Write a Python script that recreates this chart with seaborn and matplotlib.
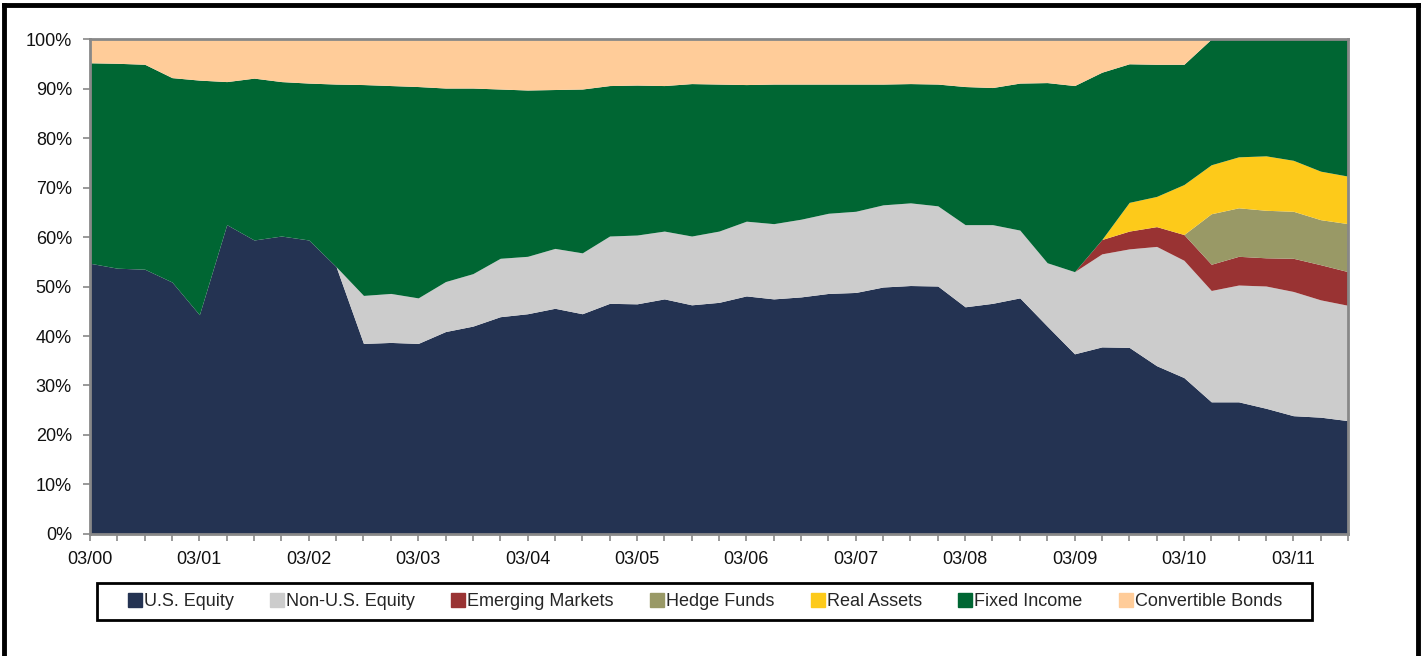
import matplotlib
matplotlib.use("Agg")
import matplotlib.pyplot as plt
from matplotlib.lines import Line2D
from matplotlib.patches import Rectangle
import numpy as np
import pandas as pd
import seaborn as sns

# Quarterly periods 03/00 .. 09/11
quarters = [f"{m:02d}/{y:02d}" for y in range(0, 12) for m in (3, 6, 9, 12)][:47]
tick_labels = ["03/00", "03/01", "03/02", "03/03", "03/04", "03/05",
               "03/06", "03/07", "03/08", "03/09", "03/10", "03/11"]

us_equity = [54.7, 53.7, 53.5, 50.9, 44.3, 62.5, 59.4, 60.2, 59.4, 54.0,
             38.5, 38.7, 38.5, 40.9, 42.0, 43.9, 44.5, 45.6, 44.5, 46.6,
             46.5, 47.5, 46.3, 46.8, 48.1, 47.5, 47.9, 48.6, 48.8, 49.9,
             50.2, 50.1, 45.9, 46.6, 47.7, 42.0, 36.4, 37.8, 37.7, 34.0,
             31.6, 26.7, 26.7, 25.4, 23.9, 23.6, 22.9]
non_us_equity = [0, 0, 0, 0, 0, 0, 0, 0, 0, 0,
                 9.7, 9.9, 9.2, 10.1, 10.6, 11.8, 11.6, 12.1, 12.3, 13.6,
                 13.9, 13.7, 13.9, 14.4, 15.1, 15.2, 15.7, 16.2, 16.4, 16.6,
                 16.7, 16.2, 16.6, 15.9, 13.7, 12.8, 16.6, 18.8, 19.9, 24.1,
                 23.7, 22.5, 23.6, 24.7, 25.1, 23.7, 23.3]
emerging_markets = [0] * 37 + [2.9, 3.6, 4.0, 5.2, 5.3, 5.8, 5.7, 6.7, 7.1, 6.8]
hedge_funds = [0] * 41 + [10.2, 9.8, 9.6, 9.5, 9.1, 9.7]
real_assets = [0] * 38 + [5.8, 6.1, 10.1, 9.9, 10.3, 11.0, 10.3, 9.8, 9.6]
fixed_income = [40.5, 41.4, 41.4, 41.3, 47.4, 28.9, 32.7, 31.2, 31.7, 36.9,
                42.6, 42.0, 42.7, 39.1, 37.5, 34.2, 33.6, 32.1, 33.1, 30.4,
                30.3, 29.4, 30.8, 29.7, 27.6, 28.2, 27.3, 26.1, 25.7, 24.4,
                24.1, 24.6, 27.9, 27.7, 29.7, 36.4, 37.6, 33.8, 28.0, 26.7,
                24.3, 25.4, 23.8, 23.6, 24.5, 26.7, 27.7]
convertible_bonds = [4.8, 4.9, 5.1, 7.8, 8.3, 8.6, 7.9, 8.6, 8.9, 9.1,
                     9.2, 9.4, 9.6, 9.9, 9.9, 10.1, 10.3, 10.2, 10.1, 9.4,
                     9.3, 9.4, 9.0, 9.1, 9.2, 9.1, 9.1, 9.1, 9.1, 9.1,
                     9.0, 9.1, 9.6, 9.8, 8.9, 8.8, 9.4, 6.7, 5.0, 5.1,
                     5.1, 0, 0, 0, 0, 0, 0]

series_names = ["U.S. Equity", "Non-U.S. Equity", "Emerging Markets",
                "Hedge Funds", "Real Assets", "Fixed Income", "Convertible Bonds"]
colors = ["#243352", "#CCCCCC", "#993333", "#999966", "#FDCA1A", "#006633", "#FFCC99"]

df = pd.DataFrame({
    "U.S. Equity": us_equity,
    "Non-U.S. Equity": non_us_equity,
    "Emerging Markets": emerging_markets,
    "Hedge Funds": hedge_funds,
    "Real Assets": real_assets,
    "Fixed Income": fixed_income,
    "Convertible Bonds": convertible_bonds,
}, index=quarters)
# normalise to 100% of portfolio
df = df.div(df.sum(axis=1), axis=0) * 100

sns.set_theme(style="white")
plt.rcParams["font.family"] = ["Liberation Sans", "DejaVu Sans"]

W, H = 1426, 656
fig = plt.figure(figsize=(W / 100, H / 100), dpi=100)
ax = fig.add_axes([0.0631, 0.186, 0.8822, 0.7545])

x = np.arange(len(df))
ax.stackplot(x, *[df[c].values for c in series_names], colors=colors,
             labels=series_names, linewidth=0)

ax.set_xlim(0, len(df) - 1)
ax.set_ylim(0, 100)
ax.set_yticks(np.arange(0, 101, 10))
ax.set_yticklabels([f"{v}%" for v in range(0, 101, 10)], fontsize=13, color="#111111")
ax.set_xticks(x, minor=True)
major = [quarters.index(t) for t in tick_labels]
ax.set_xticks(major)
ax.set_xticklabels(tick_labels, fontsize=13, color="#111111")
ax.tick_params(axis="both", which="both", direction="out", color="#888888",
               length=5, width=1.2, bottom=True, left=True)
ax.tick_params(axis="x", which="major", pad=7)
ax.tick_params(axis="y", pad=8)
for s in ax.spines.values():
    s.set_color("#888888")
    s.set_linewidth(2)
ax.grid(False)

handles = [Line2D([0], [0], marker="s", linestyle="none", markersize=10,
                  markerfacecolor=c, markeredgecolor=c) for c in colors]
leg = fig.legend(handles, series_names, loc="center", ncol=7,
                 bbox_to_anchor=(0.4945, 0.083), frameon=False,
                 fontsize=13, handlelength=0.7, handletextpad=0.15,
                 columnspacing=2.05, borderpad=0.55)

# legend box frame
fig.add_artist(Rectangle((97 / W, 1 - 620 / H), (1312 - 97) / W, 37 / H,
                         transform=fig.transFigure, fill=False,
                         edgecolor="black", linewidth=2))

# outer frame of the figure (top, left, right)
for xs, ys in [((3.5 / W, 1417.5 / W), (1 - 5 / H, 1 - 5 / H)),
               ((3.5 / W, 3.5 / W), (0, 1 - 5 / H)),
               ((1417.5 / W, 1417.5 / W), (0, 1 - 5 / H))]:
    fig.add_artist(Line2D(xs, ys, color="black", linewidth=3.5,
                          transform=fig.transFigure, solid_capstyle="projecting"))

fig.savefig("out.png", dpi=100, facecolor="white")
